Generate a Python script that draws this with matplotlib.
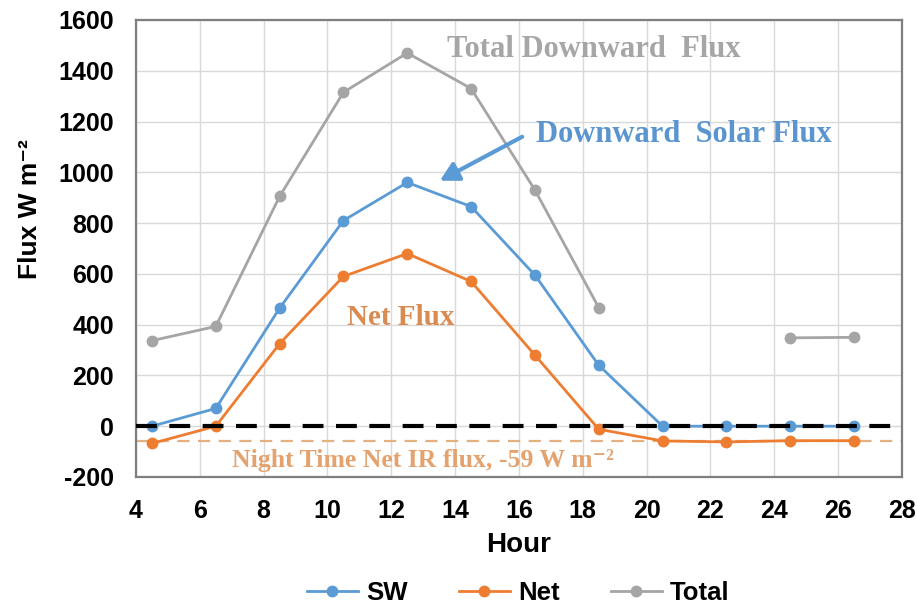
import numpy as np
import matplotlib
matplotlib.use("Agg")
import matplotlib.pyplot as plt

plt.rcParams["axes.unicode_minus"] = False

# Hourly flux values (W m-2)
hours = [4.5, 6.5, 8.5, 10.5, 12.5, 14.5, 16.5, 18.5, 20.5, 22.5, 24.5, 26.5]
sw = [0, 70, 465, 810, 960, 865, 595, 240, 0, 0, 0, 0]
net = [-68, 0, 325, 590, 680, 570, 280, -12, -58, -62, -57, -57]
total = [337, 393, 905, 1315, 1470, 1330, 930, 467, np.nan, np.nan, 348, 350]
night_ir = -59

series_names = ["SW", "Net", "Total"]
xticks = list(range(4, 29, 2))
yticks = list(range(-200, 1601, 200))

c_sw = "#5B9BD5"
c_net = "#ED7D31"
c_tot = "#A5A5A5"

sans = ["Liberation Sans", "DejaVu Sans"]
serif = ["Liberation Serif", "DejaVu Serif"]

fig = plt.figure(figsize=(9.17, 6.07), dpi=100)
ax = fig.add_axes([0.1483, 0.2142, 0.8353, 0.7529])

ax.set_xlim(4, 28)
ax.set_ylim(-200, 1600)
ax.set_xticks(xticks)
ax.set_yticks(yticks)
ax.grid(True, color="#D9D9D9", linewidth=1.0, zorder=0)
ax.set_axisbelow(True)
for s in ax.spines.values():
    s.set_color("#7F7F7F")
    s.set_linewidth(1.6)
ax.tick_params(length=0, pad=16)
for lab in ax.get_xticklabels() + ax.get_yticklabels():
    lab.set_fontfamily(sans)
    lab.set_fontweight("bold")
    lab.set_fontsize(18)

# reference lines
ax.axhline(0, color="black", lw=3, dashes=(5, 3), zorder=4)
ax.axhline(night_ir, color="#E3B07F", lw=1.6, dashes=(5.5, 3.8), zorder=2)

kw = dict(marker="o", markersize=7.5, lw=2.0, zorder=3)
ax.plot(hours, sw, color=c_sw, label=series_names[0], **kw)
ax.plot(hours, net, color=c_net, label=series_names[1], **kw)
ax.plot(hours, total, color=c_tot, label=series_names[2], **kw)

ax.set_xlabel("Hour", fontfamily=sans, fontweight="bold", fontsize=20, labelpad=6)
fig.text(0.033, 0.655, "Flux W m\u207b\u00b2", rotation=90, ha="center", va="center",
         fontfamily=sans, fontweight="bold", fontsize=19)

# annotations
ax.text(13.74, 1483, "Total Downward  Flux", color="#A6A6A6", fontfamily=serif,
        fontweight="bold", fontsize=22, ha="left", va="center")
ax.text(16.53, 1150, "Downward  Solar Flux", color="#5B95CF", fontfamily=serif,
        fontweight="bold", fontsize=22, ha="left", va="center")
ax.text(10.61, 430, "Net Flux", color="#D98B52", fontfamily=serif,
        fontweight="bold", fontsize=21, ha="left", va="center")
ax.text(7.0, -136, "Night Time Net IR flux, -59 W m\u207b\u00b2", color="#E3A26E",
        fontfamily=serif, fontweight="bold", fontsize=18.5, ha="left", va="center")
ax.annotate("", xy=(13.52, 967), xytext=(16.1, 1140),
            arrowprops=dict(arrowstyle="-|>,head_length=1.1,head_width=0.6",
                            color=c_sw, lw=3, shrinkA=0, shrinkB=0))

leg = fig.legend(loc="center", bbox_to_anchor=(0.565, 0.023), ncol=3, frameon=False,
                 handlelength=2.0, handletextpad=0.3, columnspacing=2.0,
                 prop=dict(family=sans, weight="bold", size=18.5))

fig.savefig("out.png", dpi=100)
